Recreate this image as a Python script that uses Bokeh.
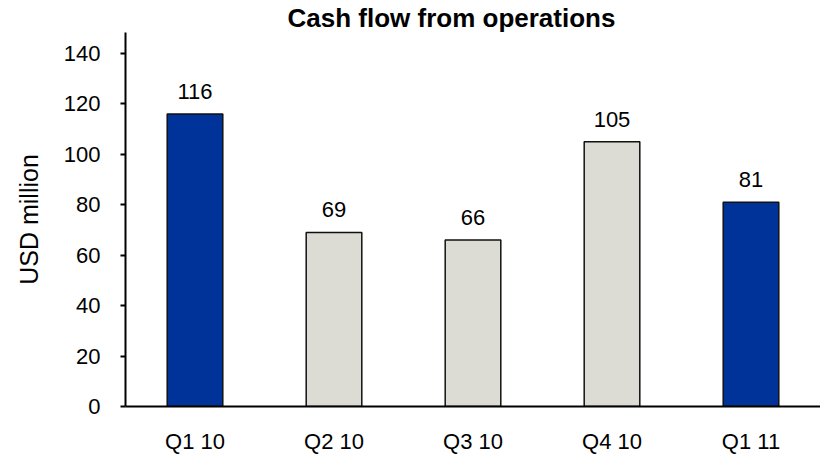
from bokeh.plotting import figure
from bokeh.models import ColumnDataSource, LabelSet, FixedTicker, Range1d, FactorRange
from bokeh.core.properties import value
from bokeh.embed import file_html
from bokeh.resources import INLINE

quarters = ["Q1 10", "Q2 10", "Q3 10", "Q4 10", "Q1 11"]
values = [116, 69, 66, 105, 81]
colors = ["#003399", "#dcdcd4", "#dcdcd4", "#dcdcd4", "#003399"]
labels = [str(v) for v in values]
y_ticks = [0, 20, 40, 60, 80, 100, 120, 140]
title_text = "Cash flow from operations"
y_label = "USD million"

FONT = "Liberation Sans"

src = ColumnDataSource(dict(q=quarters, v=values, c=colors, t=labels))

p = figure(x_range=FactorRange(*quarters, range_padding=0), y_range=Range1d(0, 148.3),
           frame_width=695, frame_height=374,
           title=title_text,
           output_backend="svg", toolbar_location=None,
           min_border_left=125, min_border_right=0, min_border_top=0, min_border_bottom=48)

p.vbar(x="q", top="v", width=0.4, source=src, fill_color="c",
       line_color="#111111", line_width=1.5)

p.add_layout(LabelSet(x="q", y="v", text="t", source=src, y_offset=15,
                      text_align="center", text_baseline="alphabetic",
                      text_font=value(FONT), text_font_size="22px", text_color="#000000"))

p.title.align = "left"
p.title.offset = 162
p.title.standoff = 0
p.title.text_font = FONT
p.title.text_font_size = "26px"
p.title.text_font_style = "bold"
p.title.text_color = "#000000"

p.xgrid.grid_line_color = None
p.ygrid.grid_line_color = None
p.outline_line_color = None

p.yaxis.ticker = FixedTicker(ticks=y_ticks)
p.yaxis.minor_tick_line_color = None
p.yaxis.major_tick_out = 5
p.yaxis.major_tick_in = 0
p.yaxis.major_tick_line_width = 2
p.yaxis.axis_line_width = 2
p.yaxis.major_label_standoff = 20
p.yaxis.axis_label = y_label
p.yaxis.axis_label_standoff = 18
p.yaxis.axis_label_text_font_style = "normal"
p.yaxis.axis_label_text_font_size = "25px"

p.xaxis.major_tick_out = 0
p.xaxis.major_tick_in = 0
p.xaxis.axis_line_width = 2
p.xaxis.major_label_standoff = 22

for ax in (p.xaxis, p.yaxis):
    ax.axis_line_color = "#000000"
    ax.major_tick_line_color = "#000000"
    ax.major_label_text_font = FONT
    ax.major_label_text_font_size = "22px"
    ax.major_label_text_color = "#000000"
    ax.axis_label_text_font = FONT
    ax.axis_label_text_color = "#000000"

open("out.html", "w").write(file_html(p, INLINE))
